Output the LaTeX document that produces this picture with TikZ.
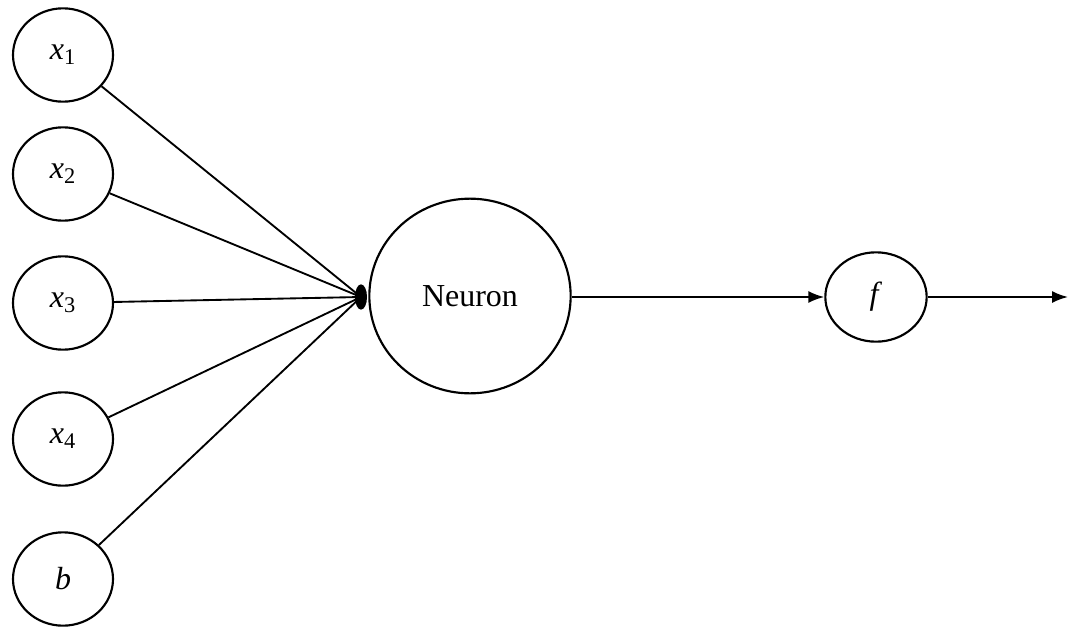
\documentclass[tikz,border=0pt]{standalone}
\usepackage{fontspec}
\setmainfont{Liberation Serif}
\usetikzlibrary{shapes.geometric,arrows.meta}
\begin{document}
\begin{tikzpicture}[x=0.75pt,y=-0.75pt,
  font=\fontsize{24}{28}\selectfont,
  inputnode/.style={draw,ellipse,line width=1.6pt,minimum width=75pt,minimum height=70pt,inner sep=0pt},
  neuronnode/.style={draw,ellipse,line width=1.6pt,minimum width=151pt,minimum height=146pt,inner sep=0pt},
  actnode/.style={draw,ellipse,line width=1.6pt,minimum width=76pt,minimum height=67pt,inner sep=0pt},
  junction/.style={fill,ellipse,minimum width=9pt,minimum height=19pt,inner sep=0pt},
  link/.style={line width=1.4pt},
  flow/.style={line width=1.4pt,-{Latex[length=12pt,width=9pt]}}
]
\useasboundingbox (0,0) rectangle (1070,628);

% inputs
\node[inputnode] (x1) at (63,55)  {\textit{x}\textsubscript{1}};
\node[inputnode] (x2) at (63,174) {\textit{x}\textsubscript{2}};
\node[inputnode] (x3) at (63,303) {\textit{x}\textsubscript{3}};
\node[inputnode] (x4) at (63,439) {\textit{x}\textsubscript{4}};
\node[inputnode] (b)  at (63,579) {\textit{b}};

% summing junction, neuron and activation
\node[junction] (sum) at (361,297) {};
\node[neuronnode] (neuron) at (470,296) {Neuron};
\node[actnode] (f) at (876,297) {\textit{f}};
\coordinate (out) at (1068,297);

% connections
\foreach \n in {x1,x2,x3,x4,b}
  \draw[link] (\n) -- (sum.center);
\draw[flow] (neuron.east |- f.west) -- (f.west);
\draw[flow] (f.east) -- (out);
\end{tikzpicture}
\end{document}
